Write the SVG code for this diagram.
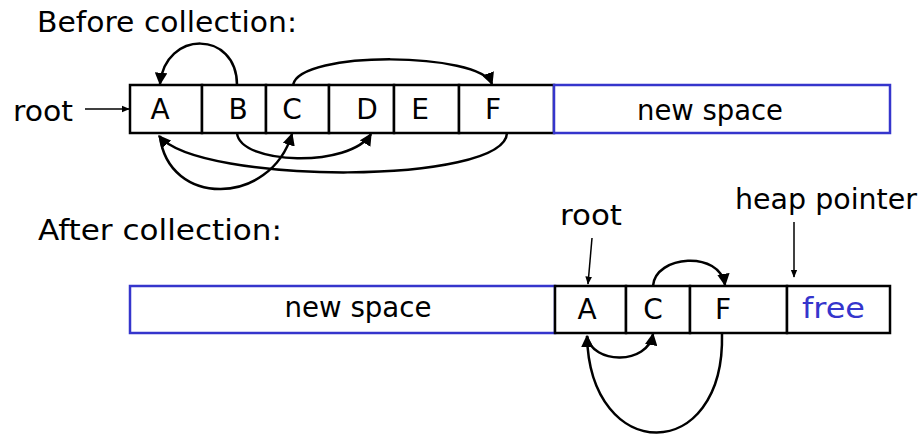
<svg xmlns="http://www.w3.org/2000/svg" width="923" height="435" viewBox="0 0 923 435">
<defs>
<style>
text{font-family:"Comic Sans MS","DejaVu Sans",sans-serif;font-size:28px;fill:#000}
.lbl{text-anchor:middle}
.cell{fill:#fff;stroke:#000;stroke-width:2.5}
.blue{fill:#fff;stroke:#3535cc;stroke-width:2.5}
.arc{fill:none;stroke:#000;stroke-width:2.5;marker-end:url(#ah)}
.thin{fill:none;stroke:#000;stroke-width:1.5;marker-end:url(#ahs)}
</style>
<marker id="ah" viewBox="0 0 10 10" refX="9" refY="5" markerWidth="5" markerHeight="5" orient="auto" markerUnits="strokeWidth">
<path d="M0,0 L10,5 L0,10 Z" fill="#000"/>
</marker>
<marker id="ahs" viewBox="0 0 10 10" refX="9" refY="5" markerWidth="5.5" markerHeight="5.5" orient="auto" markerUnits="strokeWidth">
<path d="M0,1 L10,5 L0,9 Z" fill="#000"/>
</marker>
</defs>
<rect width="923" height="435" fill="#fff"/>
<text x="37" y="32" textLength="260" lengthAdjust="spacingAndGlyphs">Before collection:</text>
<text x="38" y="240" textLength="244" lengthAdjust="spacingAndGlyphs">After collection:</text>
<g id="before-heap">
<g id="cellA"><rect class="cell" x="130" y="85" width="72" height="48"/><text class="lbl" x="160" y="119">A</text></g>
<g id="cellB"><rect class="cell" x="202" y="85" width="64" height="48"/><text class="lbl" x="238" y="119">B</text></g>
<g id="cellC"><rect class="cell" x="266" y="85" width="63" height="48"/><text class="lbl" x="292" y="119">C</text></g>
<g id="cellD"><rect class="cell" x="329" y="85" width="65" height="48"/><text class="lbl" x="367" y="119">D</text></g>
<g id="cellE"><rect class="cell" x="394" y="85" width="65" height="48"/><text class="lbl" x="420" y="119">E</text></g>
<g id="cellF"><rect class="cell" x="459" y="85" width="95" height="48"/><text class="lbl" x="493" y="119">F</text></g>
<g id="newspace1"><rect class="blue" x="554" y="85" width="336" height="48"/><text class="lbl" x="710" y="120" textLength="146" lengthAdjust="spacingAndGlyphs">new space</text></g>
</g>
<g id="root1"><text x="13" y="121" textLength="60" lengthAdjust="spacingAndGlyphs">root</text></g>
<g id="after-heap">
<g id="newspace2"><rect class="blue" x="130" y="286" width="425" height="47"/><text class="lbl" x="358" y="317" textLength="147" lengthAdjust="spacingAndGlyphs">new space</text></g>
<g id="cellA2"><rect class="cell" x="555" y="286" width="71" height="47"/><text class="lbl" x="587" y="319">A</text></g>
<g id="cellC2"><rect class="cell" x="626" y="286" width="64" height="47"/><text class="lbl" x="653" y="319">C</text></g>
<g id="cellF2"><rect class="cell" x="690" y="286" width="97" height="47"/><text class="lbl" x="723" y="319">F</text></g>
<g id="cellFree"><rect class="cell" x="787" y="286" width="103" height="47"/><text x="802" y="318" style="fill:#3535cc" textLength="63" lengthAdjust="spacingAndGlyphs">free</text></g>
</g>
<g id="root2"><text x="560" y="225" textLength="62" lengthAdjust="spacingAndGlyphs">root</text></g>
<g id="heapptr"><text x="735" y="209" textLength="182" lengthAdjust="spacingAndGlyphs">heap pointer</text></g>
<g id="connectors">
<path class="thin" d="M85,109 L129,109"/>
<path class="thin" d="M592,238 L588,284"/>
<path class="thin" d="M794,222 L794,277"/>
<path class="arc" d="M237,85 C237,30 165,30 160,84"/>
<path class="arc" d="M293,85 C300,50 480,52 492,84"/>
<path class="arc" d="M237,133 C240,165 350,168 371,134"/>
<path class="arc" d="M507,133 C505,185 200,185 159,136"/>
<path class="arc" d="M160,136 C168,207 270,207 292,134"/>
<path class="arc" d="M653,286 C655,255 720,250 725,285"/>
<path class="arc" d="M587,336 C592,365 648,365 653,334"/>
<path class="arc" d="M722,334 C725,465 590,465 587,336"/>
</g>
</svg>
